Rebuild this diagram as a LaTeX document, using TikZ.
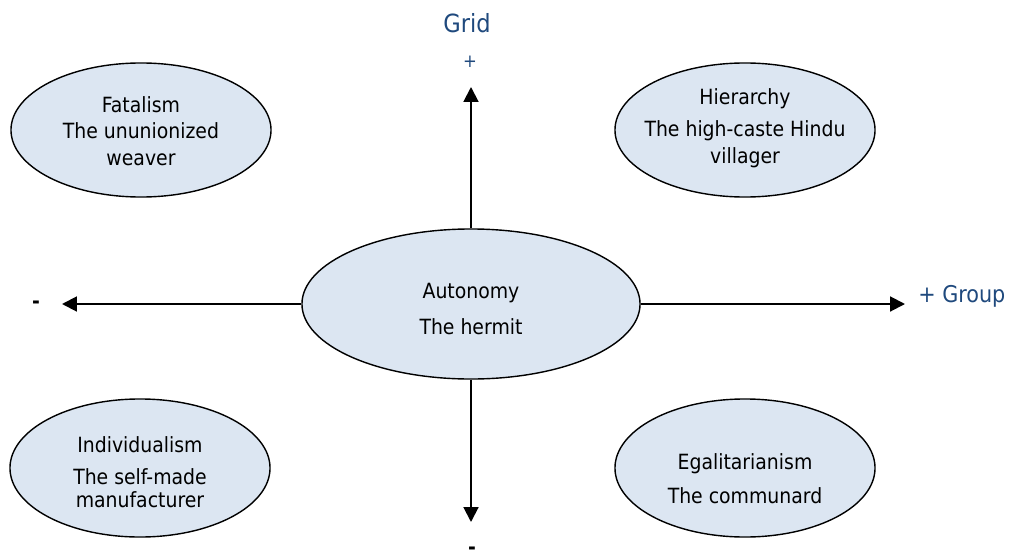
\documentclass[tikz,border=0pt]{standalone}
\usepackage{fontspec}
\setmainfont{DejaVu Sans Condensed}
\usetikzlibrary{shapes.geometric}
\usetikzlibrary{arrows.meta}
\tikzset{>={Triangle[width=10.5pt,length=10.5pt]}}
\definecolor{gridBlue}{RGB}{31, 73, 125}
\definecolor{ovalFill}{RGB}{220, 230, 242}

\begin{document}
\begin{tikzpicture}[
    x = 0.025cm, y = -0.025cm,
    oval/.style = {ellipse, draw, line width=1pt, fill=ovalFill,
        minimum width=6.5cm, minimum height=3.35cm, inner sep=0pt},
    txt/.style = {align=center, font=\fontsize{14.9}{19}\selectfont},
    axis/.style = {line width=1.4pt, ->},
    lbl/.style = {text=gridBlue, font=\fontsize{17.8}{20}\selectfont},
    minus/.style = {font=\fontsize{14.9}{19}\selectfont\bfseries}
  ]
  \useasboundingbox (0,0) rectangle (1012,558);

  % the four corners and the middle
  \node[oval] (FAT) at (141,130) {};
  \node[oval] (HIE) at (745,130) {};
  \node[oval, minimum height=3.45cm] (IND) at (140,468) {};
  \node[oval, minimum height=3.45cm] (EGA) at (745,468) {};
  \node[oval, minimum width=8.45cm, minimum height=3.75cm] (AUT) at (471,304) {};

  \coordinate (TOP) at (471,87);
  \coordinate (BOT) at (471,522);
  \coordinate (LFT) at (62,304);
  \coordinate (RGT) at (905,304);

  \draw[axis] (AUT.north) -- (TOP);
  \draw[axis] (AUT.south) -- (BOT);
  \draw[axis] (AUT.west) -- (LFT);
  \draw[axis] (AUT.east) -- (RGT);

  \node[txt] (FATT) at (141,131) {Fatalism\\The ununionized\\weaver};
  \node[txt] (HIET) at (745,128) {Hierarchy\\[4pt]The high-caste Hindu\\villager};
  \node[txt] (AUTT) at (471,309) {Autonomy\\[7pt]The hermit};
  \node[txt] (INDT) at (140,472) {Individualism\\[4pt]The self-made\\[-3pt]manufacturer};
  \node[txt] (EGAT) at (745,479) {Egalitarianism\\[5pt]The communard};

  \node[lbl] (GRID) at (467,23) {Grid};
  \node[lbl, font=\fontsize{13}{14}\selectfont] (GPLUS) at (470,62) {+};
  \node[lbl, anchor=west, inner sep=0pt, font=\fontsize{16.4}{18}\selectfont] (GROUP) at (918,296) {+ Group};
  \node[minus] (GMIN) at (36,305) {-};
  \node[minus] (RMIN) at (472,551) {-};
\end{tikzpicture}
\end{document}
